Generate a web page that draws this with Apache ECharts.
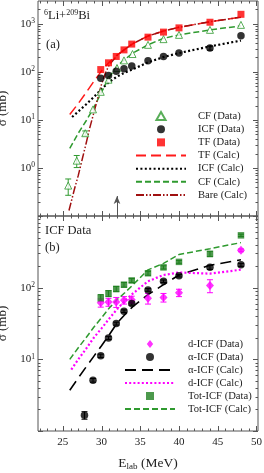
<!DOCTYPE html>
<html><head><meta charset="utf-8">
<script src="https://cdn.jsdelivr.net/npm/echarts@6/dist/echarts.min.js"></script>
<style>html,body{margin:0;padding:0;background:#fff}#c{width:264px;height:473px}</style>
</head><body><div id="c"></div>
<script>
// ---------- Panel (a) data ----------
const cfE   = [25.7, 26.8, 27.9, 28.9, 29.9, 30.9, 32.0, 32.9, 34.0, 36.0, 38.0, 40.0, 44.0, 48.0];
const cfVal = [0.43, 1.42, 5.3, 16.6, 38.5, 69, 121, 174, 236, 367, 482, 592, 752, 955];
const cfErr = [0.16, 0.4, 0.6, 0, 0, 0, 0, 0, 0, 0, 0, 0, 0, 0];
const icfE   = [29.9, 30.9, 31.9, 32.9, 33.9, 36.0, 38.0, 40.0, 44.0, 48.0];
const icfVal = [74, 84, 103, 117, 133, 171, 210, 247, 314, 565];
const icfErr = [0, 0, 0, 0, 0, 0, 0, 0, 30, 0];
const tfE    = [29.9, 30.9, 31.9, 32.9, 33.9, 36.0, 38.0, 40.0, 44.0, 48.0];
const tfVal  = [112, 155, 210, 288, 380, 530, 675, 827, 1084, 1585];

const tfCalcE  = [25.9, 27, 28, 29, 30, 31, 32, 33, 34, 36, 38, 40, 44, 48];
const tfCalc   = [13, 22, 37, 63, 105, 160, 225, 295, 385, 560, 710, 850, 1110, 1380];
const icfCalcE = [26.2, 27, 28, 29, 30, 31, 32, 33, 34, 36, 38, 40, 44, 48];
const icfCalc  = [11.5, 15, 21, 30, 44, 62, 80, 97, 113, 158, 204, 247, 340, 450];
const cfCalcE  = [25.9, 27, 28, 29, 30, 31, 32, 33, 34, 36, 38, 40, 44, 48];
const cfCalc   = [2.55, 5.3, 9.5, 18, 38, 78, 132, 182, 245, 367, 500, 590, 750, 910];
const bareE    = [25.8, 26.5, 27, 27.5, 28, 28.5, 29, 29.5, 30, 30.5, 31, 32, 33, 34, 36, 38, 40, 44, 48];
const bareVal  = [0.13, 0.36, 0.7, 1.5, 3.2, 7, 14, 28, 55, 95, 140, 220, 295, 385, 560, 710, 850, 1110, 1380];
const arrowE = 32, arrowFrom = 0.1, arrowTo = 0.26;

// ---------- Panel (b) data ----------
const alphaE   = [27.8, 28.9, 29.9, 30.9, 31.9, 32.9, 33.9, 36.0, 38.0, 40.0, 44.0, 48.0];
const alphaVal = [1.66, 5.1, 11.2, 19.9, 31.5, 47, 60, 93, 123, 147, 192, 208];
const alphaErr = [0.2, 0.3, 0.6, 1, 1.5, 2, 3, 4, 5, 6, 12, 10];
const dE   = [29.9, 30.9, 31.9, 32.9, 33.9, 36.0, 38.0, 40.0, 44.0, 48.0];
const dVal = [61.5, 63, 63, 67, 68, 71, 73, 85, 107, 332];
const dErr = [8, 8, 10, 8, 8, 12, 10, 10, 22, 15];
const totE   = [29.9, 30.9, 31.9, 32.9, 33.9, 36.0, 38.0, 40.0, 44.0, 48.0];
const totVal = [72, 83, 96, 110, 126, 159, 192, 229, 296, 537];
const totErr = [8, 8, 8, 8, 8, 10, 10, 10, 25, 20];

const bCalcE    = [25.9, 27, 28, 29, 30, 31, 32, 33, 34, 36, 38, 40, 44, 48];
const totCalc   = [10, 14.5, 20, 28, 38, 52, 68, 85, 108, 177, 218, 290, 350, 425];
const alphaCalc = [3.7, 5.5, 7.8, 11, 15.5, 22, 32, 42, 54, 80, 110, 150, 205, 245];
const dCalcE    = [26.1, 27, 28, 29, 30, 31, 32, 33, 34, 36, 38, 40, 44, 48];
const dCalc     = [7.2, 10, 14, 20, 27, 37, 50, 65, 82, 123, 150, 163, 157, 178];

// ---------- ticks ----------
const xMajorTicks = [25, 30, 35, 40, 45, 50];
const xMinorTicks = [];
for (let v = 22; v <= 50; v++) if (v % 5) xMinorTicks.push(v);
const yMajorA = [0.1, 1, 10, 100, 1000];
const yMajorB = [1, 10, 100, 1000];
function minors(lo, hi) {
  const out = [];
  for (let e = Math.floor(Math.log10(lo)); e <= Math.ceil(Math.log10(hi)); e++)
    for (let k = 2; k <= 9; k++) { const v = k * Math.pow(10, e); if (v > lo && v < hi) out.push(v); }
  return out;
}
const yMinorA = minors(0.1, 3000);
const yMinorB = minors(1, 1000);

const zip = (a, b) => a.map((v, i) => [v, b[i]]);
const zip3 = (a, b, c) => a.map((v, i) => [v, b[i], c[i]]).filter(d => d[2] > 0);

const FONT = 'Liberation Serif';
const frameColor = '#555';
const GREEN = '#2f9a2f', DGREEN = '#1f7f1f', RED = '#ff1a1a', DRED = '#a01010', MAG = '#ff00ff';

function tickRenderer(yMajor, yMinor) {
  return function (params, api) {
    const cs = params.coordSys;
    const L = cs.x, R = cs.x + cs.width, T = cs.y, B = cs.y + cs.height;
    const kids = [];
    const add = (x1, y1, x2, y2) => kids.push({ type: 'line', shape: { x1, y1, x2, y2 }, style: { stroke: frameColor, lineWidth: 1 } });
    const yRef = yMajor[1];
    xMajorTicks.forEach(v => { const x = Math.round(api.coord([v, yRef])[0]) + 0.5; add(x, B, x, B - 5); add(x, T, x, T + 5); });
    xMinorTicks.forEach(v => { const x = Math.round(api.coord([v, yRef])[0]) + 0.5; add(x, B, x, B - 2.5); add(x, T, x, T + 2.5); });
    yMajor.forEach(v => { const y = Math.round(api.coord([30, v])[1]) + 0.5; add(L, y, L + 5, y); add(R, y, R - 5, y); });
    yMinor.forEach(v => { const y = Math.round(api.coord([30, v])[1]) + 0.5; add(L, y, L + 2.5, y); add(R, y, R - 2.5, y); });
    return { type: 'group', children: kids };
  };
}
function errRenderer(color) {
  return function (params, api) {
    const x = api.value(0), y = api.value(1), e = api.value(2);
    const p1 = api.coord([x, y + e]), p0 = api.coord([x, Math.max(y - e, 1e-3)]);
    const c = 3;
    return { type: 'group', children: [
      { type: 'line', shape: { x1: p0[0], y1: p0[1], x2: p1[0], y2: p1[1] }, style: { stroke: color, lineWidth: 1 } },
      { type: 'line', shape: { x1: p0[0] - c, y1: p0[1], x2: p0[0] + c, y2: p0[1] }, style: { stroke: color, lineWidth: 1 } },
      { type: 'line', shape: { x1: p1[0] - c, y1: p1[1], x2: p1[0] + c, y2: p1[1] }, style: { stroke: color, lineWidth: 1 } }
    ] };
  };
}
function errSeries(idx, data, color) {
  return { type: 'custom', xAxisIndex: idx, yAxisIndex: idx, data, renderItem: errRenderer(color), silent: true, z: 2, clip: false };
}
function lineS(idx, name, xs, ys, color, width, dash) {
  return { type: 'line', name, xAxisIndex: idx, yAxisIndex: idx, data: zip(xs, ys), showSymbol: false, symbol: 'none',
    lineStyle: { color, width, type: dash }, itemStyle: { color }, z: 3, silent: true };
}
function scatS(idx, name, xs, ys, symbol, size, itemStyle) {
  return { type: 'scatter', name, xAxisIndex: idx, yAxisIndex: idx, data: zip(xs, ys), symbol, symbolSize: size, itemStyle, z: 4, silent: true };
}
const supLabel = (lo, hi) => ({
  margin: 3, fontFamily: FONT, color: '#222',
  formatter: v => { const e = Math.log10(v); const r = Math.round(e);
    if (Math.abs(e - r) > 1e-6 || r === lo || r === hi) return ''; return '{b|10}{s|' + r + '}'; },
  rich: { b: { fontFamily: FONT, fontSize: 11, lineHeight: 13, color: '#222' },
          s: { fontFamily: FONT, fontSize: 7.5, lineHeight: 8, verticalAlign: 'top', color: '#222' } }
});
const yName = { name: 'σ (mb)', nameLocation: 'middle', nameGap: 19,
  nameTextStyle: { fontFamily: FONT, fontSize: 13, color: '#222' } };

const ICONS = { triangle: 'path://M0,-1L1,0.75L-1,0.75Z', rect: 'path://M0,0H1V1H0Z', diamond: 'path://M0,-1L0.8,0L0,1L-0.8,0Z', circle: 'circle' };
const dataItem = (name, icon) => ({ name, icon: ICONS[icon] });
const lineItem = name => ({ name, itemStyle: { opacity: 0 } });

const option = {
  animation: false,
  backgroundColor: '#fff',
  grid: [
    { left: 38, top: 1, width: 220, height: 215, show: true, borderColor: frameColor, borderWidth: 1, backgroundColor: 'transparent', containLabel: false, outerBoundsMode: 'none' },
    { left: 38, top: 216, width: 220, height: 215, show: true, borderColor: frameColor, borderWidth: 1, backgroundColor: 'transparent', containLabel: false, outerBoundsMode: 'none' }
  ],
  xAxis: [
    { gridIndex: 0, type: 'value', min: 21.8, max: 50.2, axisLine: { show: false }, axisTick: { show: false }, splitLine: { show: false }, axisLabel: { show: false } },
    { gridIndex: 1, type: 'value', min: 21.8, max: 50.2, axisLine: { show: false }, axisTick: { show: false }, splitLine: { show: false },
      axisLabel: { margin: 6, fontFamily: FONT, fontSize: 11, color: '#222', formatter: v => (Math.abs(v % 5) < 1e-9 ? String(v) : '') },
      name: '{e|E}{l|lab}{e| (MeV)}', nameLocation: 'middle', nameGap: 24,
      nameTextStyle: { rich: { e: { fontFamily: FONT, fontSize: 13.5, lineHeight: 16, color: '#222' },
                               l: { fontFamily: FONT, fontSize: 9, lineHeight: 9, verticalAlign: 'bottom', color: '#222' } } } }
  ],
  yAxis: [
    Object.assign({ gridIndex: 0, type: 'log', logBase: 10, min: 0.1, max: 3000, axisLine: { show: false }, axisTick: { show: false }, splitLine: { show: false }, minorTick: { show: false }, axisLabel: supLabel(-1, 99) }, yName),
    Object.assign({ gridIndex: 1, type: 'log', logBase: 10, min: 1, max: 1000, axisLine: { show: false }, axisTick: { show: false }, splitLine: { show: false }, minorTick: { show: false }, axisLabel: supLabel(0, 3) }, yName)
  ],
  legend: [
    { orient: 'vertical', left: 135, top: 109.5, padding: 0, itemWidth: 50, itemHeight: 8, itemGap: 0, selectedMode: false, symbolKeepAspect: true,
      textStyle: { fontFamily: FONT, fontSize: 10.6, lineHeight: 13.15, color: '#222', padding: [0, 0, 0, 7] },
      data: [dataItem('CF (Data)', 'triangle'), dataItem('ICF (Data)', 'circle'), dataItem('TF (Data)', 'rect'),
             lineItem('TF (Calc)'), lineItem('ICF (Calc)'), lineItem('CF (Calc)'), lineItem('Bare (Calc)')] },
    { orient: 'vertical', left: 124, top: 337.5, padding: 0, itemWidth: 50, itemHeight: 8, itemGap: 0, selectedMode: false, symbolKeepAspect: true,
      textStyle: { fontFamily: FONT, fontSize: 10.6, lineHeight: 13, color: '#222', padding: [0, 0, 0, 8] },
      data: [dataItem('d-ICF (Data)', 'diamond'), dataItem('α-ICF (Data)', 'circle'), lineItem('α-ICF (Calc)'),
             lineItem('d-ICF (Calc)'), dataItem('Tot-ICF (Data)', 'rect'), lineItem('Tot-ICF (Calc)')] }
  ],
  graphic: [
    { type: 'text', x: 44, y: 9, style: { text: '{s|6}{b|Li+}{s|209}{b|Bi}', rich: {
        b: { fontFamily: FONT, fontSize: 12.5, lineHeight: 14, fill: '#222' },
        s: { fontFamily: FONT, fontSize: 8, lineHeight: 8, verticalAlign: 'top', fill: '#222' } } } },
    { type: 'text', x: 46, y: 38, style: { text: '(a)', fontFamily: FONT, fontSize: 12.5, fill: '#222' } },
    { type: 'text', x: 45, y: 224, style: { text: 'ICF Data', fontFamily: FONT, fontSize: 12.5, fill: '#222' } },
    { type: 'text', x: 45, y: 241, style: { text: '(b)', fontFamily: FONT, fontSize: 12.5, fill: '#222' } }
  ],
  series: [
    { type: 'custom', xAxisIndex: 0, yAxisIndex: 0, data: [[30, 10]], renderItem: tickRenderer(yMajorA, yMinorA), silent: true, z: 6, clip: false },
    { type: 'custom', xAxisIndex: 1, yAxisIndex: 1, data: [[30, 10]], renderItem: tickRenderer(yMajorB, yMinorB), silent: true, z: 6, clip: false },
    // panel (a)
    lineS(0, 'TF (Calc)', tfCalcE, tfCalc, RED, 1.5, [10, 5]),
    lineS(0, 'ICF (Calc)', icfCalcE, icfCalc, '#000', 2.2, [2, 2.4]),
    lineS(0, 'CF (Calc)', cfCalcE, cfCalc, GREEN, 1.5, [6, 3]),
    lineS(0, 'Bare (Calc)', bareE, bareVal, DRED, 1.5, [8, 2, 1.5, 2, 1.5, 2]),
    errSeries(0, zip3(cfE, cfVal, cfErr), GREEN),
    errSeries(0, zip3(icfE, icfVal, icfErr), '#000'),
    scatS(0, 'CF (Data)', cfE, cfVal, 'triangle', 7, { color: '#fff', borderColor: GREEN, borderWidth: 1 }),
    scatS(0, 'ICF (Data)', icfE, icfVal, 'circle', 7.5, { color: '#000' }),
    scatS(0, 'TF (Data)', tfE, tfVal, 'rect', 7, { color: '#ff0000' }),
    { type: 'line', xAxisIndex: 0, yAxisIndex: 0, data: [], silent: true,
      markLine: { silent: true, symbol: ['none', 'arrow'], symbolSize: [5, 8], label: { show: false },
        lineStyle: { color: '#555', width: 1, type: 'solid' },
        data: [[{ coord: [arrowE, arrowFrom] }, { coord: [arrowE, arrowTo] }]] } },
    // panel (b)
    lineS(1, 'α-ICF (Calc)', bCalcE, alphaCalc, '#000', 1.6, [11, 6]),
    lineS(1, 'd-ICF (Calc)', dCalcE, dCalc, MAG, 2.2, [2, 2.2]),
    lineS(1, 'Tot-ICF (Calc)', bCalcE, totCalc, GREEN, 1.5, [6, 3]),
    errSeries(1, zip3(dE, dVal, dErr), MAG),
    errSeries(1, zip3(alphaE, alphaVal, alphaErr), '#000'),
    errSeries(1, zip3(totE, totVal, totErr), DGREEN),
    scatS(1, 'd-ICF (Data)', dE, dVal, 'diamond', [8, 9], { color: MAG }),
    scatS(1, 'α-ICF (Data)', alphaE, alphaVal, 'circle', 7.5, { color: '#000' }),
    scatS(1, 'Tot-ICF (Data)', totE, totVal, 'rect', 6.5, { color: DGREEN })
  ]
};
echarts.init(document.getElementById('c'), null, { renderer: 'canvas' }).setOption(option);
</script></body></html>
